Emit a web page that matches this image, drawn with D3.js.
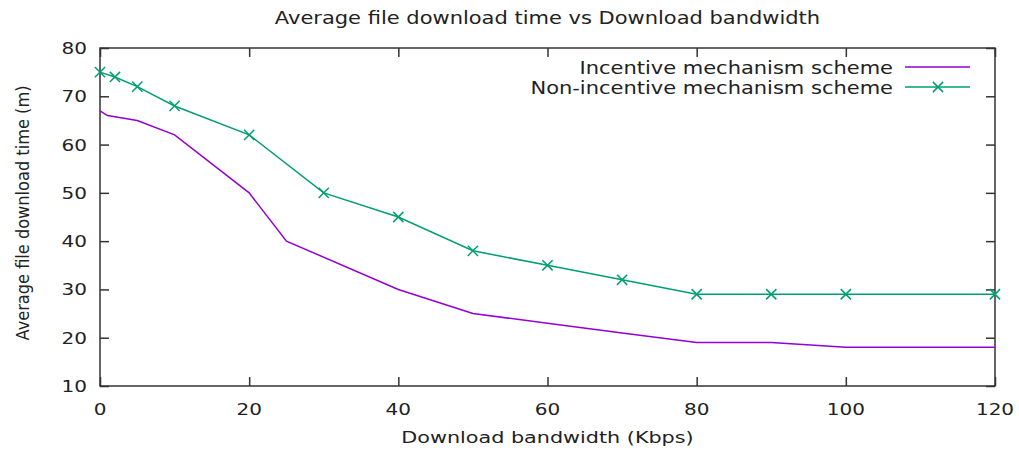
<!DOCTYPE html>
<html>
<head>
<meta charset="utf-8">
<script src="https://cdn.jsdelivr.net/npm/d3@7"></script>
<style>
  body { margin: 0; background: #fff; }
  text { font-family: "DejaVu Sans", sans-serif; fill: #222; }
</style>
</head>
<body>
<svg id="chart" width="1019" height="450"></svg>
<script>
// data
let bandwidthIncentive = [0, 1, 5, 10, 20, 25, 40, 50, 60, 70, 80, 90, 100, 120]
let timeIncentive      = [67, 66, 65, 62, 50, 40, 30, 25, 23, 21, 19, 19, 18, 18]
let bandwidthNon = [0, 2, 5, 10, 20, 30, 40, 50, 60, 70, 80, 90, 100, 120]
let timeNon      = [75, 74, 72, 68, 62, 50, 45, 38, 35, 32, 29, 29, 29, 29]
let xTicks = [0, 20, 40, 60, 80, 100, 120]
let yTicks = [10, 20, 30, 40, 50, 60, 70, 80]
let seriesNames = ['Incentive mechanism scheme', 'Non-incentive mechanism scheme']

let svg = d3.select('#chart')
let plotLeft = 100, plotRight = 995, plotTop = 48, plotBottom = 386
let stretch = 1.25  // the original text is widened horizontally

let x = d3.scaleLinear().domain([0, 120]).range([plotLeft, plotRight])
let y = d3.scaleLinear().domain([10, 80]).range([plotBottom, plotTop])

// ticks, mirrored on all four sides, pointing inward
svg.append('g').attr('transform', `translate(0,${plotBottom})`)
  .call(d3.axisBottom(x).tickValues(xTicks).tickSizeInner(-9).tickSizeOuter(0).tickFormat(''))
svg.append('g').attr('transform', `translate(0,${plotTop})`)
  .call(d3.axisTop(x).tickValues(xTicks).tickSizeInner(-9).tickSizeOuter(0).tickFormat(''))
svg.append('g').attr('transform', `translate(${plotLeft},0)`)
  .call(d3.axisLeft(y).tickValues(yTicks).tickSizeInner(-9).tickSizeOuter(0).tickFormat(''))
svg.append('g').attr('transform', `translate(${plotRight},0)`)
  .call(d3.axisRight(y).tickValues(yTicks).tickSizeInner(-9).tickSizeOuter(0).tickFormat(''))
svg.selectAll('.domain').remove()
svg.selectAll('.tick line').attr('stroke', '#333').attr('stroke-width', 1.5)

svg.append('rect')
  .attr('x', plotLeft).attr('y', plotTop)
  .attr('width', plotRight - plotLeft).attr('height', plotBottom - plotTop)
  .attr('fill', 'none').attr('stroke', '#333').attr('stroke-width', 1.5)

function label(px, py, str, anchor, size) {
  return svg.append('text')
    .attr('transform', `translate(${px},${py}) scale(${stretch},1)`)
    .attr('text-anchor', anchor)
    .style('font-size', size + 'px')
    .text(str)
}

xTicks.forEach(t => label(x(t), 415, t, 'middle', 16))
yTicks.forEach(t => label(plotLeft - 13, y(t) + 6, t, 'end', 16))

label((plotLeft + plotRight) / 2, 24, 'Average file download time vs Download bandwidth', 'middle', 16.8)
label((plotLeft + plotRight) / 2, 443, 'Download bandwidth (Kbps)', 'middle', 16.6)

svg.append('text')
  .attr('transform', `translate(29,${(plotTop + plotBottom) / 2 - 4}) rotate(-90)`)
  .attr('text-anchor', 'middle')
  .attr('textLength', 255).attr('lengthAdjust', 'spacingAndGlyphs')
  .style('font-size', '17px')
  .text('Average file download time (m)')

let line = d3.line().x(d => x(d[0])).y(d => y(d[1]))
let purple = '#9400d3', green = '#009e73'

let incData = d3.zip(bandwidthIncentive, timeIncentive)
let nonData = d3.zip(bandwidthNon, timeNon)

svg.append('path').datum(incData).attr('d', line)
  .attr('fill', 'none').attr('stroke', purple).attr('stroke-width', 1.5)
svg.append('path').datum(nonData).attr('d', line)
  .attr('fill', 'none').attr('stroke', green).attr('stroke-width', 1.5)

let cross = d3.symbol().type(d3.symbolX).size(70)
svg.selectAll('.marker').data(nonData).enter().append('path')
  .attr('class', 'marker')
  .attr('d', cross)
  .attr('transform', d => `translate(${x(d[0])},${y(d[1])})`)
  .attr('fill', 'none').attr('stroke', green).attr('stroke-width', 1.5)

// legend
label(893, 74, seriesNames[0], 'end', 16.8)
label(893, 94, seriesNames[1], 'end', 16.8)
svg.append('line').attr('x1', 905).attr('x2', 970).attr('y1', 67).attr('y2', 67)
  .attr('stroke', purple).attr('stroke-width', 1.5)
svg.append('line').attr('x1', 905).attr('x2', 970).attr('y1', 87).attr('y2', 87)
  .attr('stroke', green).attr('stroke-width', 1.5)
svg.append('path').attr('d', cross)
  .attr('transform', 'translate(938,87)')
  .attr('fill', 'none').attr('stroke', green).attr('stroke-width', 1.5)
</script>
</body>
</html>
